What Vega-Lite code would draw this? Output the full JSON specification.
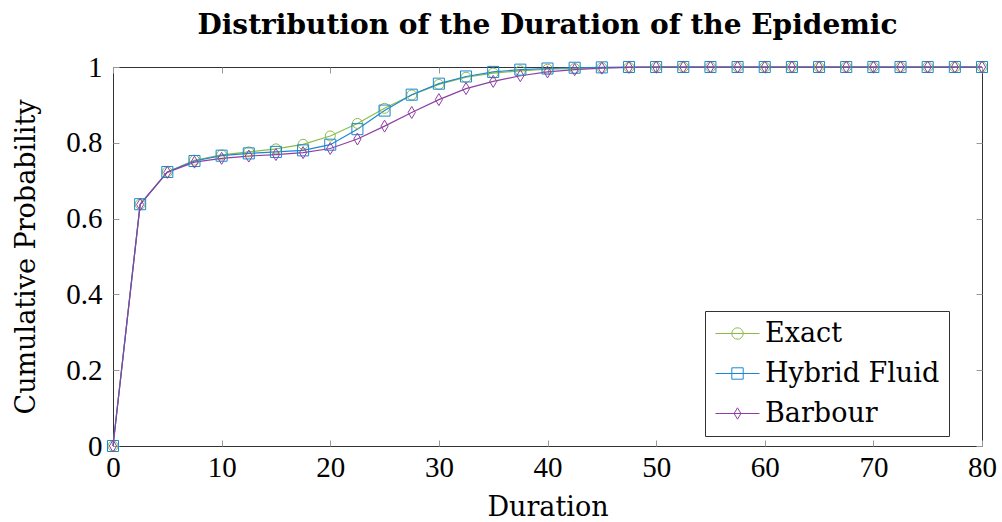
{
  "$schema": "https://vega.github.io/schema/vega-lite/v6.json",
  "width": 869,
  "height": 379,
  "autosize": {"type": "none"},
  "padding": {"left": 113, "top": 67, "right": 20, "bottom": 76},
  "background": "white",
  "title": {"text": "Distribution of the Duration of the Epidemic", "font": "DejaVu Serif", "fontSize": 28, "fontWeight": "bold", "color": "#000", "anchor": "middle", "offset": 13},
  "config": {
    "view": {"stroke": "#333", "strokeWidth": 1},
    "axis": {"grid": false, "domain": false},
    "legend": {"orient": "none", "legendX": 592, "legendY": 244, "title": null, "labelFont": "DejaVu Serif", "labelFontSize": 27, "labelColor": "#000", "padding": 9, "cornerRadius": 0, "rowPadding": 12, "labelLimit": 0, "symbolFillColor": "transparent"}
  },
  "data": {"values": [
    {"duration": 0, "prob": 0, "series": "Exact"},
    {"duration": 2.5, "prob": 0.638, "series": "Exact"},
    {"duration": 5, "prob": 0.723, "series": "Exact"},
    {"duration": 7.5, "prob": 0.754, "series": "Exact"},
    {"duration": 10, "prob": 0.768, "series": "Exact"},
    {"duration": 12.5, "prob": 0.776, "series": "Exact"},
    {"duration": 15, "prob": 0.784, "series": "Exact"},
    {"duration": 17.5, "prob": 0.796, "series": "Exact"},
    {"duration": 20, "prob": 0.818, "series": "Exact"},
    {"duration": 22.5, "prob": 0.851, "series": "Exact"},
    {"duration": 25, "prob": 0.891, "series": "Exact"},
    {"duration": 27.5, "prob": 0.926, "series": "Exact"},
    {"duration": 30, "prob": 0.954, "series": "Exact"},
    {"duration": 32.5, "prob": 0.973, "series": "Exact"},
    {"duration": 35, "prob": 0.984, "series": "Exact"},
    {"duration": 37.5, "prob": 0.990, "series": "Exact"},
    {"duration": 40, "prob": 0.994, "series": "Exact"},
    {"duration": 42.5, "prob": 0.996, "series": "Exact"},
    {"duration": 45, "prob": 0.998, "series": "Exact"},
    {"duration": 47.5, "prob": 0.999, "series": "Exact"},
    {"duration": 50, "prob": 1, "series": "Exact"},
    {"duration": 52.5, "prob": 1, "series": "Exact"},
    {"duration": 55, "prob": 1, "series": "Exact"},
    {"duration": 57.5, "prob": 1, "series": "Exact"},
    {"duration": 60, "prob": 1, "series": "Exact"},
    {"duration": 62.5, "prob": 1, "series": "Exact"},
    {"duration": 65, "prob": 1, "series": "Exact"},
    {"duration": 67.5, "prob": 1, "series": "Exact"},
    {"duration": 70, "prob": 1, "series": "Exact"},
    {"duration": 72.5, "prob": 1, "series": "Exact"},
    {"duration": 75, "prob": 1, "series": "Exact"},
    {"duration": 77.5, "prob": 1, "series": "Exact"},
    {"duration": 80, "prob": 1, "series": "Exact"},
    {"duration": 0, "prob": 0, "series": "Hybrid Fluid"},
    {"duration": 2.5, "prob": 0.638, "series": "Hybrid Fluid"},
    {"duration": 5, "prob": 0.723, "series": "Hybrid Fluid"},
    {"duration": 7.5, "prob": 0.752, "series": "Hybrid Fluid"},
    {"duration": 10, "prob": 0.766, "series": "Hybrid Fluid"},
    {"duration": 12.5, "prob": 0.772, "series": "Hybrid Fluid"},
    {"duration": 15, "prob": 0.776, "series": "Hybrid Fluid"},
    {"duration": 17.5, "prob": 0.780, "series": "Hybrid Fluid"},
    {"duration": 20, "prob": 0.795, "series": "Hybrid Fluid"},
    {"duration": 22.5, "prob": 0.836, "series": "Hybrid Fluid"},
    {"duration": 25, "prob": 0.885, "series": "Hybrid Fluid"},
    {"duration": 27.5, "prob": 0.927, "series": "Hybrid Fluid"},
    {"duration": 30, "prob": 0.956, "series": "Hybrid Fluid"},
    {"duration": 32.5, "prob": 0.975, "series": "Hybrid Fluid"},
    {"duration": 35, "prob": 0.987, "series": "Hybrid Fluid"},
    {"duration": 37.5, "prob": 0.993, "series": "Hybrid Fluid"},
    {"duration": 40, "prob": 0.996, "series": "Hybrid Fluid"},
    {"duration": 42.5, "prob": 0.998, "series": "Hybrid Fluid"},
    {"duration": 45, "prob": 0.999, "series": "Hybrid Fluid"},
    {"duration": 47.5, "prob": 1, "series": "Hybrid Fluid"},
    {"duration": 50, "prob": 1, "series": "Hybrid Fluid"},
    {"duration": 52.5, "prob": 1, "series": "Hybrid Fluid"},
    {"duration": 55, "prob": 1, "series": "Hybrid Fluid"},
    {"duration": 57.5, "prob": 1, "series": "Hybrid Fluid"},
    {"duration": 60, "prob": 1, "series": "Hybrid Fluid"},
    {"duration": 62.5, "prob": 1, "series": "Hybrid Fluid"},
    {"duration": 65, "prob": 1, "series": "Hybrid Fluid"},
    {"duration": 67.5, "prob": 1, "series": "Hybrid Fluid"},
    {"duration": 70, "prob": 1, "series": "Hybrid Fluid"},
    {"duration": 72.5, "prob": 1, "series": "Hybrid Fluid"},
    {"duration": 75, "prob": 1, "series": "Hybrid Fluid"},
    {"duration": 77.5, "prob": 1, "series": "Hybrid Fluid"},
    {"duration": 80, "prob": 1, "series": "Hybrid Fluid"},
    {"duration": 0, "prob": 0, "series": "Barbour"},
    {"duration": 2.5, "prob": 0.637, "series": "Barbour"},
    {"duration": 5, "prob": 0.722, "series": "Barbour"},
    {"duration": 7.5, "prob": 0.749, "series": "Barbour"},
    {"duration": 10, "prob": 0.759, "series": "Barbour"},
    {"duration": 12.5, "prob": 0.765, "series": "Barbour"},
    {"duration": 15, "prob": 0.769, "series": "Barbour"},
    {"duration": 17.5, "prob": 0.774, "series": "Barbour"},
    {"duration": 20, "prob": 0.785, "series": "Barbour"},
    {"duration": 22.5, "prob": 0.810, "series": "Barbour"},
    {"duration": 25, "prob": 0.844, "series": "Barbour"},
    {"duration": 27.5, "prob": 0.880, "series": "Barbour"},
    {"duration": 30, "prob": 0.914, "series": "Barbour"},
    {"duration": 32.5, "prob": 0.943, "series": "Barbour"},
    {"duration": 35, "prob": 0.962, "series": "Barbour"},
    {"duration": 37.5, "prob": 0.977, "series": "Barbour"},
    {"duration": 40, "prob": 0.987, "series": "Barbour"},
    {"duration": 42.5, "prob": 0.993, "series": "Barbour"},
    {"duration": 45, "prob": 0.997, "series": "Barbour"},
    {"duration": 47.5, "prob": 0.999, "series": "Barbour"},
    {"duration": 50, "prob": 1, "series": "Barbour"},
    {"duration": 52.5, "prob": 1, "series": "Barbour"},
    {"duration": 55, "prob": 1, "series": "Barbour"},
    {"duration": 57.5, "prob": 1, "series": "Barbour"},
    {"duration": 60, "prob": 1, "series": "Barbour"},
    {"duration": 62.5, "prob": 1, "series": "Barbour"},
    {"duration": 65, "prob": 1, "series": "Barbour"},
    {"duration": 67.5, "prob": 1, "series": "Barbour"},
    {"duration": 70, "prob": 1, "series": "Barbour"},
    {"duration": 72.5, "prob": 1, "series": "Barbour"},
    {"duration": 75, "prob": 1, "series": "Barbour"},
    {"duration": 77.5, "prob": 1, "series": "Barbour"},
    {"duration": 80, "prob": 1, "series": "Barbour"}
  ]},
  "resolve": {"axis": {"x": "independent", "y": "independent"}, "legend": {"color": "independent", "shape": "independent"}},
  "layer": [
    {
      "mark": {"type": "line", "strokeWidth": 1.2},
      "encoding": {
        "x": {"field": "duration", "type": "quantitative", "scale": {"domain": [0, 80], "nice": false},
          "axis": {"orient": "bottom", "values": [0, 10, 20, 30, 40, 50, 60, 70, 80], "title": "Duration", "titleFont": "DejaVu Serif", "titleFontSize": 27, "titleFontWeight": "normal", "titleColor": "#000", "titlePadding": 12, "labelFont": "Liberation Serif", "labelFontSize": 29, "labelColor": "#000", "labelPadding": 13, "labelFlush": false, "labelOverlap": false, "tickSize": -6, "tickColor": "#999", "tickWidth": 1}},
        "y": {"field": "prob", "type": "quantitative", "scale": {"domain": [0, 1], "nice": false},
          "axis": {"orient": "left", "values": [0, 0.2, 0.4, 0.6, 0.8, 1], "format": "~g", "title": "Cumulative Probability", "titleFont": "DejaVu Serif", "titleFontSize": 27, "titleFontWeight": "normal", "titleColor": "#000", "titlePadding": 25, "labelFont": "Liberation Serif", "labelFontSize": 29, "labelColor": "#000", "labelPadding": 17, "labelFlush": false, "labelOverlap": false, "tickSize": -6, "tickColor": "#999", "tickWidth": 1}},
        "color": {"field": "series", "type": "nominal", "scale": {"domain": ["Exact", "Hybrid Fluid", "Barbour"], "range": ["#8dbb46", "#1b87d4", "#8e3fa3"]},
          "legend": {"symbolType": "M-2.2,0L2.2,0", "symbolSize": 400, "symbolStrokeWidth": 1.2, "symbolOffset": 10, "labelOffset": 14, "strokeColor": "#333"}},
        "detail": {"field": "series"}
      }
    },
    {
      "mark": {"type": "point", "filled": false, "strokeWidth": 1, "opacity": 1},
      "encoding": {
        "x": {"field": "duration", "type": "quantitative",
          "axis": {"orient": "top", "values": [0, 10, 20, 30, 40, 50, 60, 70, 80], "title": null, "labels": false, "tickSize": -6, "tickColor": "#999", "tickWidth": 1}},
        "y": {"field": "prob", "type": "quantitative",
          "axis": {"orient": "right", "values": [0, 0.2, 0.4, 0.6, 0.8, 1], "title": null, "labels": false, "tickSize": -6, "tickColor": "#999", "tickWidth": 1}},
        "color": {"field": "series", "type": "nominal",
          "legend": {"symbolSize": 130, "symbolStrokeWidth": 1, "symbolOffset": 10, "labelOffset": 20, "labelExpr": "''"}},
        "shape": {"field": "series", "type": "nominal", "scale": {"domain": ["Exact", "Hybrid Fluid", "Barbour"], "range": ["circle", "square", "M0,-1L0.6,0L0,1L-0.6,0Z"]},
          "legend": {"symbolSize": 130, "symbolStrokeWidth": 1, "symbolOffset": 10, "labelOffset": 20, "labelExpr": "''"}},
        "size": {"field": "series", "type": "nominal", "scale": {"domain": ["Exact", "Hybrid Fluid", "Barbour"], "range": [100, 144, 130]}, "legend": null}
      }
    }
  ]
}
